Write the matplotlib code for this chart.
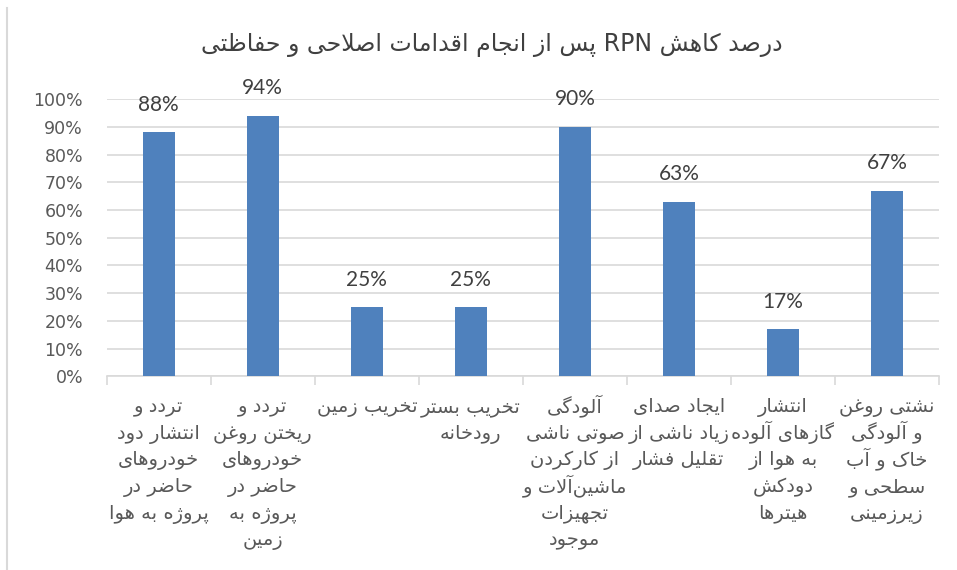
import re
import matplotlib
matplotlib.use("Agg")
import matplotlib.pyplot as plt
from matplotlib.lines import Line2D

# ---------------- data ----------------
title_text = "درصد کاهش RPN پس از انجام اقدامات اصلاحی و حفاظتی"
category_lines = [
    ["تردد و", "انتشار دود", "خودروهای", "حاضر در", "پروژه به هوا"],
    ["تردد و", "ریختن روغن", "خودروهای", "حاضر در", "پروژه به", "زمین"],
    ["تخریب زمین"],
    ["تخریب بستر", "رودخانه"],
    ["آلودگی", "صوتی ناشی", "از کارکردن", "ماشین\u200cآلات و", "تجهیزات", "موجود"],
    ["ایجاد صدای", "زیاد ناشی از", "تقلیل فشار"],
    ["انتشار", "گازهای آلوده", "به هوا از", "دودکش", "هیترها"],
    ["نشتی روغن", "و آلودگی", "خاک و آب", "سطحی و", "زیرزمینی"],
]
values = [88, 94, 25, 25, 90, 63, 17, 67]
y_ticks = [0, 10, 20, 30, 40, 50, 60, 70, 80, 90, 100]
y_tick_labels = ["0%", "10%", "20%", "30%", "40%", "50%", "60%", "70%", "80%", "90%", "100%"]

# ---------------- minimal Arabic/Persian shaping ----------------
DUAL = {
    '\u0626': 0xFE89, '\u0628': 0xFE8F, '\u062A': 0xFE95, '\u062B': 0xFE99,
    '\u062C': 0xFE9D, '\u062D': 0xFEA1, '\u062E': 0xFEA5, '\u0633': 0xFEB1,
    '\u0634': 0xFEB5, '\u0635': 0xFEB9, '\u0636': 0xFEBD, '\u0637': 0xFEC1,
    '\u0638': 0xFEC5, '\u0639': 0xFEC9, '\u063A': 0xFECD, '\u0641': 0xFED1,
    '\u0642': 0xFED5, '\u0643': 0xFED9, '\u0644': 0xFEDD, '\u0645': 0xFEE1,
    '\u0646': 0xFEE5, '\u0647': 0xFEE9, '\u064A': 0xFEF1, '\u067E': 0xFB56,
    '\u0686': 0xFB7A, '\u06A9': 0xFB8E, '\u06AF': 0xFB92, '\u06CC': 0xFBFC,
}
RIGHT = {
    '\u0622': 0xFE81, '\u0623': 0xFE83, '\u0624': 0xFE85, '\u0625': 0xFE87,
    '\u0627': 0xFE8D, '\u0629': 0xFE93, '\u062F': 0xFEA9, '\u0630': 0xFEAB,
    '\u0631': 0xFEAD, '\u0632': 0xFEAF, '\u0648': 0xFEED, '\u0698': 0xFB8A,
}
LAMALEF = {'\u0622': 0xFEF5, '\u0623': 0xFEF7, '\u0625': 0xFEF9, '\u0627': 0xFEFB}


def _jt(c):
    if c in DUAL:
        return 'D'
    if c in RIGHT:
        return 'R'
    return 'U'


def shape_line(s):
    chars = list(s)
    n = len(chars)
    out = []
    i = 0
    while i < n:
        c = chars[i]
        t = _jt(c)
        if t == 'U':
            if c != '\u200c':
                out.append(c)
            i += 1
            continue
        jp = i > 0 and _jt(chars[i - 1]) == 'D'
        if c == '\u0644' and i + 1 < n and chars[i + 1] in LAMALEF:
            out.append(chr(LAMALEF[chars[i + 1]] + (1 if jp else 0)))
            i += 2
            continue
        jn = t == 'D' and i + 1 < n and _jt(chars[i + 1]) in ('D', 'R')
        if t == 'D':
            base = DUAL[c]
            off = 3 if (jp and jn) else 1 if jp else 2 if jn else 0
        else:
            base = RIGHT[c]
            off = 1 if jp else 0
        out.append(chr(base + off))
        i += 1
    vis = ''.join(out)[::-1]
    vis = re.sub(r'[A-Za-z0-9%.]+', lambda m: m.group(0)[::-1], vis)
    return vis


# ---------------- plot ----------------
TEXT = '#595959'
GRID = '#D9D9D9'
BAR = '#4F81BD'

fig = plt.figure(figsize=(9.57, 5.70), dpi=100)
ax = fig.add_axes([0.1115, 0.3395, 0.9812 - 0.1115, 0.8263 - 0.3395])

x = list(range(len(values)))
bars = ax.bar(x, values, width=0.31, color=BAR, zorder=3)

ax.set_xlim(-0.5, len(values) - 0.5)
ax.set_ylim(0, 100)
ax.set_yticks(y_ticks)
ax.set_yticklabels(y_tick_labels, fontfamily='DejaVu Sans', fontsize=12.5, color=TEXT)
ax.tick_params(axis='y', length=0, pad=17)
ax.yaxis.grid(True, color=GRID, linewidth=1.2, zorder=0)
ax.set_axisbelow(True)
for sp in ['left', 'right', 'top']:
    ax.spines[sp].set_visible(False)
ax.spines['bottom'].set_color(GRID)
ax.spines['bottom'].set_linewidth(1.2)

# category dividers
ax.set_xticks([i - 0.5 for i in range(len(values) + 1)])
ax.set_xticklabels([])
ax.tick_params(axis='x', length=6.5, width=1.2, color=GRID)

# category labels, one line at a time for even spacing
for i, lines in enumerate(category_lines):
    for j, line in enumerate(lines):
        ax.annotate(shape_line(line), xy=(i, 0), xycoords=('data', 'axes fraction'),
                    xytext=(0, -25.5 - 19.2 * j), textcoords='offset points',
                    ha='center', va='baseline', fontsize=14, color=TEXT,
                    fontfamily='DejaVu Sans')

# data labels
for i, v in enumerate(values):
    ax.annotate(f"{v}%", xy=(i, v), xytext=(0, 12.5), textcoords='offset points',
                ha='center', va='bottom', fontsize=15, color='#404040',
                fontfamily='Lato')

fig.text(492 / 957, 1 - 45 / 570, shape_line(title_text), ha='center', va='center',
         fontsize=17, color='#404040', fontfamily='DejaVu Sans')

fig.add_artist(Line2D([7.5 / 957, 7.5 / 957], [1 - 8 / 570, 0], transform=fig.transFigure,
                      color=GRID, linewidth=1.5))

fig.savefig('out.png', dpi=100)
